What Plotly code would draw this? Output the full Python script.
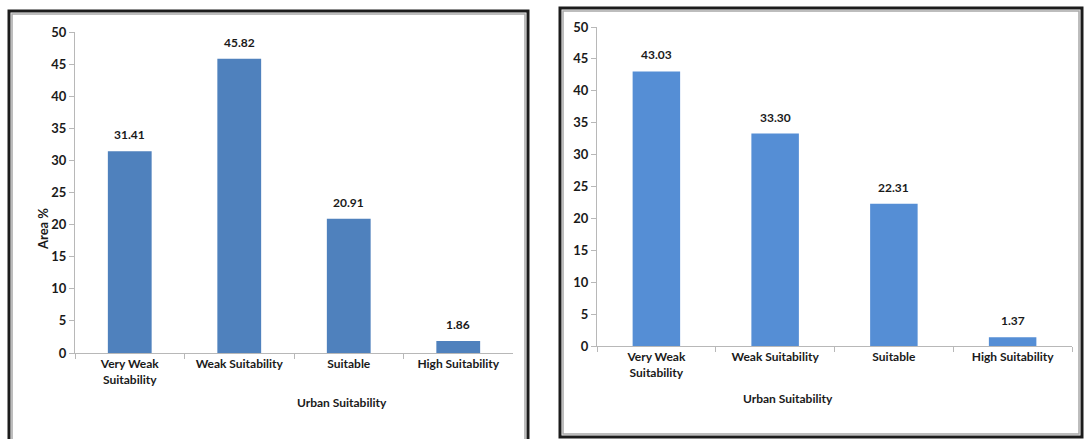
import plotly.graph_objects as go

categories = ["Very Weak<br>Suitability", "Weak Suitability", "Suitable", "High Suitability"]
left_values = [31.41, 45.82, 20.91, 1.86]
right_values = [43.03, 33.30, 22.31, 1.37]
left_labels = ["31.41", "45.82", "20.91", "1.86"]
right_labels = ["43.03", "33.30", "22.31", "1.37"]
y_ticks = [0, 5, 10, 15, 20, 25, 30, 35, 40, 45, 50]
x_title = "Urban Suitability"
y_title = "Area %"

W, H = 1084, 439
FONT = dict(family="Lato, Open Sans, sans-serif", size=12, color="#1a1a1a", weight="bold")
YFONT = dict(family="Lato, Open Sans, sans-serif", size=13, color="#1a1a1a", weight="bold")
AXC = "#b8b8b8"

fig = go.Figure()
fig.add_trace(go.Bar(x=categories, y=left_values, marker=dict(color="#4F81BD", line=dict(width=0)),
                     xaxis="x", yaxis="y", showlegend=False, hoverinfo="x+y"))
fig.add_trace(go.Bar(x=categories, y=right_values, marker=dict(color="#558ED5", line=dict(width=0)),
                     xaxis="x2", yaxis="y2", showlegend=False, hoverinfo="x+y"))

def px_x(p):
    return p / W

def px_y(p):
    return (H - p) / H

ax_common = dict(showline=True, linecolor=AXC, linewidth=1, showgrid=False, zeroline=False,
                 ticks="outside", ticklen=5, tickcolor=AXC, fixedrange=True, automargin=False)

fig.update_layout(
    width=W, height=H, margin=dict(l=0, r=0, t=0, b=0, pad=0, autoexpand=False),
    paper_bgcolor="white", plot_bgcolor="white", bargap=0.6, font=FONT,
    xaxis=dict(domain=[px_x(75), px_x(513)], anchor="y", range=[-0.5, 3.5], type="category",
               tickson="boundaries", tickfont=FONT, **ax_common),
    yaxis=dict(domain=[px_y(353), px_y(32)], anchor="x", range=[0, 50], tickvals=y_ticks,
               tickfont=YFONT, **ax_common),
    xaxis2=dict(domain=[px_x(597), px_x(1072)], anchor="y2", range=[-0.5, 3.5], type="category",
                tickson="boundaries", tickfont=FONT, **ax_common),
    yaxis2=dict(domain=[px_y(346), px_y(27)], anchor="x2", range=[0, 50], tickvals=y_ticks,
                tickfont=YFONT, **ax_common),
)

annotations = []
for c, v, t in zip(categories, left_values, left_labels):
    annotations.append(dict(x=c, y=v, xref="x", yref="y", text=t, showarrow=False,
                            yanchor="bottom", yshift=7, font=FONT))
for c, v, t in zip(categories, right_values, right_labels):
    annotations.append(dict(x=c, y=v, xref="x2", yref="y2", text=t, showarrow=False,
                            yanchor="bottom", yshift=7, font=FONT))
annotations.append(dict(x=px_x(295), y=px_y(412), xref="paper", yref="paper", text=x_title,
                        showarrow=False, font=FONT))
annotations.append(dict(x=px_x(835), y=px_y(408), xref="paper", yref="paper", text=x_title,
                        showarrow=False, font=FONT))
annotations.append(dict(x=px_x(33), y=px_y(229), xref="paper", yref="paper", text=y_title,
                        showarrow=False, textangle=-90, font=YFONT))
fig.update_layout(annotations=annotations)


def open_frame(x0, x1, ytop):
    # left, top, right sides only (bottom runs off the picture)
    return (f"M {px_x(x0)},0 L {px_x(x0)},{px_y(ytop)} L {px_x(x1)},{px_y(ytop)} L {px_x(x1)},0")


shapes = []
shapes.append(dict(type="path", xref="paper", yref="paper", path=open_frame(9, 528, 11),
                   line=dict(color="#1c1c1c", width=3)))
shapes.append(dict(type="path", xref="paper", yref="paper", path=open_frame(12, 525, 14),
                   line=dict(color="#a8a8a8", width=1.5)))
shapes.append(dict(type="rect", xref="paper", yref="paper", x0=px_x(560), x1=px_x(1082), y0=px_y(437), y1=px_y(8),
                   line=dict(color="#1c1c1c", width=3)))
shapes.append(dict(type="rect", xref="paper", yref="paper", x0=px_x(563), x1=px_x(1079), y0=px_y(434), y1=px_y(11),
                   line=dict(color="#a8a8a8", width=1.5)))
fig.update_layout(shapes=shapes)

fig.write_html("out.html")
